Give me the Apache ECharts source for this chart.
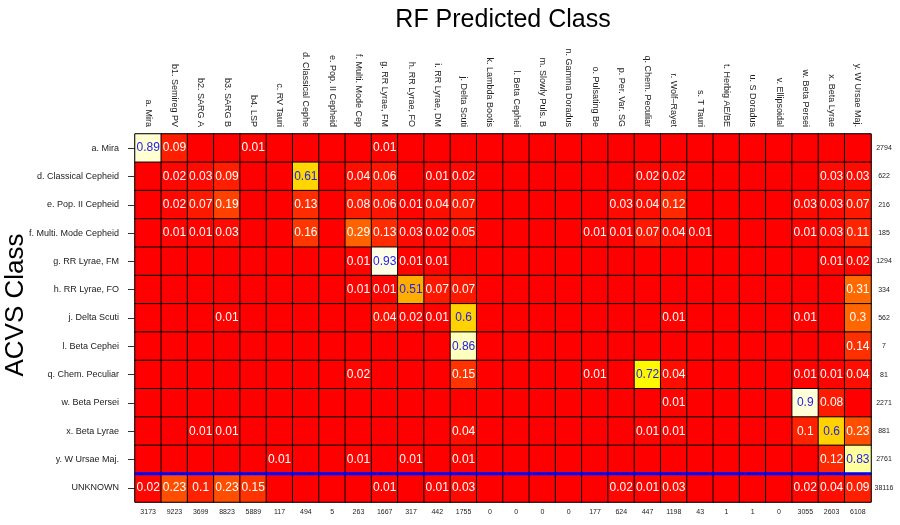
<!DOCTYPE html>
<html>
<head>
<meta charset="utf-8">
<script src="https://cdn.jsdelivr.net/npm/echarts@6/dist/echarts.min.js"></script>
<style>html,body{margin:0;padding:0;background:#fff}#chart{width:900px;height:525px}</style>
</head>
<body>
<div id="chart"></div>
<script>
const colLabels = ["a. Mira","b1. Semireg PV","b2. SARG A","b3. SARG B","b4. LSP","c. RV Tauri","d. Classical Cephe","e. Pop. II Cepheid","f. Multi. Mode Cep","g. RR Lyrae, FM","h. RR Lyrae, FO","i. RR Lyrae, DM","j. Delta Scuti","k. Lambda Bootis","l. Beta Cephei","m. Slowly Puls. B","n. Gamma Doradus","o. Pulsating Be","p. Per. Var. SG","q. Chem. Peculiar","r. Wolf\u2013Rayet","s. T Tauri","t. Herbig AE/BE","u. S Doradus","v. Ellipsoidal","w. Beta Persei","x. Beta Lyrae","y. W Ursae Maj."];
const rowLabels = ["a. Mira","d. Classical Cepheid","e. Pop. II Cepheid","f. Multi. Mode Cepheid","g. RR Lyrae, FM","h. RR Lyrae, FO","j. Delta Scuti","l. Beta Cephei","q. Chem. Peculiar","w. Beta Persei","x. Beta Lyrae","y. W Ursae Maj.","UNKNOWN"];
const rowTotals = ["2794","622","216","185","1294","334","562","7","81","2271","881","2761","38116"];
const colTotals = ["3173","9223","3699","8823","5889","117","494","5","263","1667","317","442","1755","0","0","0","0","177","624","447","1198","43","1","1","0","3055","2603","6108"];
const cellValues = [
  [0.89,0.09,0,0,0.01,0,0,0,0,0.01,0,0,0,0,0,0,0,0,0,0,0,0,0,0,0,0,0,0],
  [0,0.02,0.03,0.09,0,0,0.61,0,0.04,0.06,0,0.01,0.02,0,0,0,0,0,0,0.02,0.02,0,0,0,0,0,0.03,0.03],
  [0,0.02,0.07,0.19,0,0,0.13,0,0.08,0.06,0.01,0.04,0.07,0,0,0,0,0,0.03,0.04,0.12,0,0,0,0,0.03,0.03,0.07],
  [0,0.01,0.01,0.03,0,0,0.16,0,0.29,0.13,0.03,0.02,0.05,0,0,0,0,0.01,0.01,0.07,0.04,0.01,0,0,0,0.01,0.03,0.11],
  [0,0,0,0,0,0,0,0,0.01,0.93,0.01,0.01,0,0,0,0,0,0,0,0,0,0,0,0,0,0,0.01,0.02],
  [0,0,0,0,0,0,0,0,0.01,0.01,0.51,0.07,0.07,0,0,0,0,0,0,0,0,0,0,0,0,0,0,0.31],
  [0,0,0,0.01,0,0,0,0,0,0.04,0.02,0.01,0.6,0,0,0,0,0,0,0,0.01,0,0,0,0,0.01,0,0.3],
  [0,0,0,0,0,0,0,0,0,0,0,0,0.86,0,0,0,0,0,0,0,0,0,0,0,0,0,0,0.14],
  [0,0,0,0,0,0,0,0,0.02,0,0,0,0.15,0,0,0,0,0.01,0,0.72,0.04,0,0,0,0,0.01,0.01,0.04],
  [0,0,0,0,0,0,0,0,0,0,0,0,0,0,0,0,0,0,0,0,0.01,0,0,0,0,0.9,0.08,0],
  [0,0,0.01,0.01,0,0,0,0,0,0,0,0,0.04,0,0,0,0,0,0,0.01,0.01,0,0,0,0,0.1,0.6,0.23],
  [0,0,0,0,0,0.01,0,0,0.01,0,0.01,0,0.01,0,0,0,0,0,0,0,0,0,0,0,0,0,0.12,0.83],
  [0.02,0.23,0.1,0.23,0.15,0,0,0,0,0.01,0,0.01,0.03,0,0,0,0,0,0.02,0.01,0.03,0,0,0,0,0.02,0.04,0.09]
];
// separator between known classes and UNKNOWN (rows counted from bottom)
const separatorRow = 1;

const heatData = [];
cellValues.forEach((row, r) => row.forEach((v, c) => heatData.push([c, r, v])));

const FONT = '"Liberation Sans", Arial, Helvetica, sans-serif';
const G = { left: 135, right: 29, top: 134, bottom: 23 };

const chart = echarts.init(document.getElementById('chart'), null, { renderer: 'canvas' });
chart.setOption({
  animation: false,
  backgroundColor: '#ffffff',
  textStyle: { fontFamily: FONT },
  title: {
    text: 'RF Predicted Class', left: 498, top: 3, textAlign: 'center',
    textStyle: { fontFamily: FONT, fontSize: 25, fontWeight: 'normal', color: '#000' }
  },
  graphic: [{
    type: 'text', x: 16, y: 305, rotation: Math.PI / 2,
    style: { text: 'ACVS Class', font: '26px ' + FONT, fill: '#000', textAlign: 'center', textVerticalAlign: 'middle' }
  }],
  grid: [
    Object.assign({ show: true, borderColor: '#666', borderWidth: 1 }, G),
    Object.assign({}, G)
  ],
  xAxis: [
    { type: 'category', gridIndex: 0, position: 'top', data: colLabels,
      axisLine: { show: false }, axisTick: { show: false }, splitLine: { show: false },
      axisLabel: { rotate: 90, interval: 0, margin: 7, fontSize: 9, color: '#222', fontFamily: FONT } },
    { type: 'category', gridIndex: 0, position: 'bottom', data: colTotals,
      axisLine: { show: false }, axisTick: { show: false }, splitLine: { show: false },
      axisLabel: { interval: 0, margin: 7, fontSize: 7, color: '#222', fontFamily: FONT } },
    { type: 'value', gridIndex: 1, min: 0, max: 1, show: false }
  ],
  yAxis: [
    { type: 'category', gridIndex: 0, position: 'left', inverse: true, data: rowLabels,
      axisLine: { show: false }, splitLine: { show: false },
      axisTick: { show: true, length: 7, alignWithLabel: true, lineStyle: { color: '#333' } },
      axisLabel: { interval: 0, margin: 16, fontSize: 9, color: '#222', fontFamily: FONT } },
    { type: 'category', gridIndex: 0, position: 'right', inverse: true, data: rowTotals,
      axisLine: { show: false }, axisTick: { show: false }, splitLine: { show: false },
      axisLabel: { interval: 0, margin: 13, align: 'center', fontSize: 7, color: '#222', fontFamily: FONT } },
    { type: 'value', gridIndex: 1, min: 0, max: 13, show: false }
  ],
  visualMap: {
    show: false, type: 'continuous', seriesIndex: 0, dimension: 2, min: 0, max: 1,
    inRange: { color: ['#FF0000','#FF1100','#FF2200','#FF3300','#FF4400','#FF5500','#FF6600','#FF7700','#FF8800','#FF9900','#FFAA00','#FFBF00','#FFD200','#FFE400','#FFF500','#FFFF00','#FFFF70','#FFFFB8','#FFFFD8','#FFFFF2','#FFFFFF'] }
  },
  series: [
    { type: 'heatmap', xAxisIndex: 0, yAxisIndex: 0,
      data: heatData.map(d => ({ value: d, label: { color: d[2] >= 0.5 ? '#2222EE' : '#FFFFFF' } })),
      itemStyle: { borderColor: '#000', borderWidth: 1 },
      label: { show: true, fontSize: 12, fontFamily: FONT,
        formatter: p => p.value[2] === 0 ? '' : String(p.value[2]) },
      emphasis: { disabled: true }
    },
    { type: 'line', xAxisIndex: 2, yAxisIndex: 2, data: [[0, separatorRow], [1, separatorRow]],
      symbol: 'none', z: 10, lineStyle: { color: '#0000FF', width: 3 } }
  ]
});
</script>
</body>
</html>
